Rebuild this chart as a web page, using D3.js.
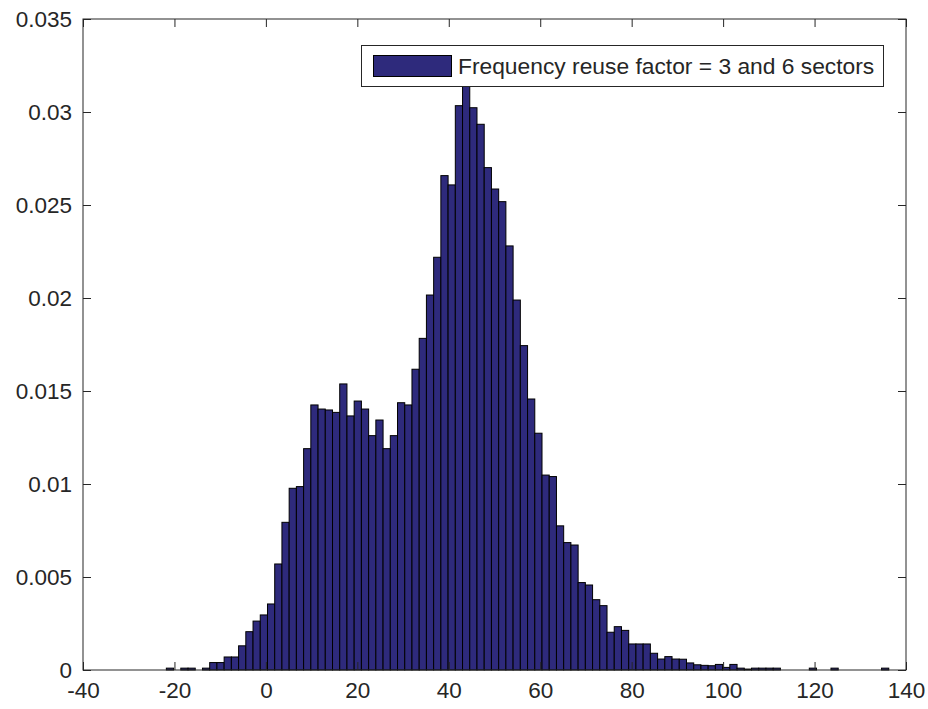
<!DOCTYPE html>
<html>
<head>
<meta charset="utf-8">
<script src="https://cdn.jsdelivr.net/npm/d3@7"></script>
<style>
  html, body { margin: 0; padding: 0; background: #ffffff; }
  svg { display: block; }
  text { font-family: Arial, "Liberation Sans", Helvetica, sans-serif; fill: #262626; }
</style>
</head>
<body>
<svg id="chart" width="928" height="709"></svg>
<script>
// ---- data ----
const binStart = -21.77;   // left edge of the first bin
const binWidth = 1.58;     // width of each bin
const density = [
  0.0001, 0, 0.0001, 0.0001, 0, 0.0001, 0.0004, 0.0004, 0.0007, 0.0007,
  0.0013, 0.00206, 0.00263, 0.00296, 0.00355, 0.0057, 0.00794, 0.00977, 0.00986, 0.0119,
  0.01425, 0.01403, 0.01398, 0.01385, 0.01538, 0.01366, 0.01446, 0.01403, 0.0126, 0.01344,
  0.0119, 0.0126, 0.01437, 0.01425, 0.01617, 0.01783, 0.02016, 0.02219, 0.02658, 0.02608,
  0.03034, 0.0316, 0.03023, 0.02934, 0.02701, 0.02586, 0.02518, 0.0228, 0.01989, 0.01744,
  0.01457, 0.01273, 0.01048, 0.0104, 0.00775, 0.00685, 0.00672, 0.0047, 0.00457, 0.00378,
  0.00346, 0.00203, 0.00233, 0.00213, 0.0014, 0.0014, 0.0014, 0.0009, 0.00059, 0.00072,
  0.00059, 0.00058, 0.00038, 0.00028, 0.00025, 0.00023, 0.0003, 0.00014, 0.0003, 0.0001,
  0.00005, 0.0001, 0.0001, 0.0001, 0.0001, 0, 0, 0, 0, 0.0001,
  0, 0, 0.0001, 0, 0, 0, 0, 0, 0, 0.0001
];
const xTicks = [-40, -20, 0, 20, 40, 60, 80, 100, 120, 140];
const xTickLabels = ["-40", "-20", "0", "20", "40", "60", "80", "100", "120", "140"];
const yTicks = [0, 0.005, 0.01, 0.015, 0.02, 0.025, 0.03, 0.035];
const yTickLabels = ["0", "0.005", "0.01", "0.015", "0.02", "0.025", "0.03", "0.035"];
const legendLabel = "Frequency reuse factor = 3 and 6 sectors";

(function () {
// ---- layout ----
const pLeft = 83, pRight = 906, pTop = 19, pBottom = 670;
const barFill = "#2e2a7c";
const fontSize = 22.5;

const svg = d3.select("#chart");
const x = d3.scaleLinear().domain([-40, 140]).range([pLeft, pRight]);
const y = d3.scaleLinear().domain([0, 0.035]).range([pBottom, pTop]);

// bars
const bins = density.map((v, i) => ({
  lo: binStart + i * binWidth,
  hi: binStart + (i + 1) * binWidth,
  v
}));
svg.append("g")
  .selectAll("rect")
  .data(bins.filter(d => d.v > 0))
  .join("rect")
  .attr("x", d => x(d.lo))
  .attr("width", d => x(d.hi) - x(d.lo))
  .attr("y", d => y(d.v))
  .attr("height", d => y(0) - y(d.v))
  .attr("fill", barFill)
  .attr("stroke", "#000")
  .attr("stroke-width", 1);

// axes box with inward ticks
const tickLen = 8;
const axisColor = "#262626";
const gAx = svg.append("g");

const bottomAxis = d3.axisBottom(x).tickValues(xTicks).tickSize(-tickLen).tickPadding(12)
  .tickFormat((d, i) => xTickLabels[i]);
const topAxis = d3.axisTop(x).tickValues(xTicks).tickSize(-tickLen).tickFormat("");
const leftAxis = d3.axisLeft(y).tickValues(yTicks).tickSize(-tickLen).tickPadding(11)
  .tickFormat((d, i) => yTickLabels[i]);
const rightAxis = d3.axisRight(y).tickValues(yTicks).tickSize(-tickLen).tickFormat("");

function styleAxis(g) {
  g.selectAll(".tick line").attr("stroke", axisColor).attr("stroke-width", 1);
  g.selectAll(".tick text").attr("font-size", fontSize).attr("fill", "#262626")
    .attr("font-family", 'Arial, "Liberation Sans", Helvetica, sans-serif');
}
gAx.append("g").attr("transform", `translate(0,${pBottom})`).call(bottomAxis).call(styleAxis);
gAx.append("g").attr("transform", `translate(0,${pTop})`).call(topAxis).call(styleAxis);
gAx.append("g").attr("transform", `translate(${pLeft},0)`).call(leftAxis).call(styleAxis);
gAx.append("g").attr("transform", `translate(${pRight},0)`).call(rightAxis).call(styleAxis);
gAx.selectAll("path.domain").remove();
gAx.append("rect")
  .attr("x", pLeft).attr("y", pTop)
  .attr("width", pRight - pLeft).attr("height", pBottom - pTop)
  .attr("fill", "none").attr("stroke", axisColor).attr("stroke-width", 1);

// legend
const lg = svg.append("g");
lg.append("rect")
  .attr("x", 361.5).attr("y", 45.5).attr("width", 522).attr("height", 41)
  .attr("fill", "#fff").attr("stroke", axisColor).attr("stroke-width", 1);
lg.append("rect")
  .attr("x", 373.5).attr("y", 55.5).attr("width", 78).attr("height", 21)
  .attr("fill", barFill).attr("stroke", "#000").attr("stroke-width", 1);
lg.append("text")
  .attr("x", 458).attr("y", 74)
  .attr("font-size", 22.8)
  .text(legendLabel);
})();
</script>
</body>
</html>
